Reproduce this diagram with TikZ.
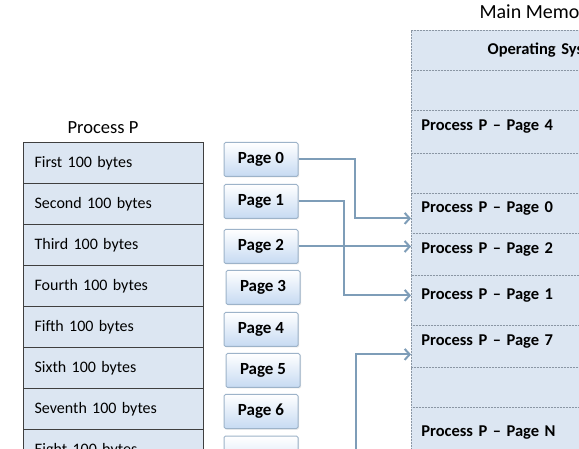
\documentclass[tikz,border=0pt]{standalone}
\usepackage{fontspec}
\setmainfont{Carlito}
\usetikzlibrary{arrows.meta,shadows}
\definecolor{rowblue}{HTML}{DCE6F2}
\definecolor{framegray}{HTML}{3F3F3F}
\definecolor{pageedge}{HTML}{9DB3C9}
\definecolor{pagefill}{HTML}{C6DAF2}
\definecolor{linkblue}{HTML}{7E9DB8}
\definecolor{memedge}{HTML}{8A96A4}
\tikzset{
  byterow/.style={draw=framegray, line width=1.2pt, fill=rowblue, anchor=north west,
    minimum height=41pt, text width=158pt, inner xsep=11pt, align=left,
    font=\fontsize{16}{19}\selectfont},
  pagebox/.style={draw=pageedge, line width=1pt, rounded corners=1.5pt,
    top color=white, bottom color=pagefill, minimum width=74pt, minimum height=34pt,
    drop shadow={opacity=0.2, shadow xshift=1pt, shadow yshift=-1pt},
    font=\bfseries\fontsize{17}{20}\selectfont},
  memrow/.style={draw=memedge, dash pattern=on 2pt off 1pt, line width=0.8pt, fill=rowblue,
    anchor=north west, text width=255pt, inner xsep=10pt, align=left,
    font=\bfseries\fontsize{16.5}{19}\selectfont},
  title/.style={font=\fontsize{18.5}{22}\selectfont},
  link/.style={draw=linkblue, line width=2pt, -{Straight Barb[length=5pt,width=11pt]}}
}
\begin{document}
\begin{tikzpicture}[x=1pt, y=-1pt]
  \clip (0,0) rectangle (579,449);
  \fill[white] (0,0) rectangle (579,449);

  % process P
  \node[title] (ptitle) at (103,128) {Process P};
  \foreach \lbl [count=\i from 0] in {First,Second,Third,Fourth,Fifth,Sixth,Seventh,Eight}
    \node[byterow] (r\i) at (23,142+41*\i) {\lbl\ 100 bytes};

  % pages
  \foreach \n/\x/\y in {0/261/159.5, 1/261/201.5, 2/261/246.5, 3/263/287.5,
                        4/261/329.5, 5/263/370.5, 6/261/411.5}
    \node[pagebox] (p\n) at (\x,\y) {Page \n};
  \node[pagebox, minimum height=42pt] (p7) at (261,457) {Page 7};

  % main memory
  \node[title, anchor=west, font=\fontsize{20}{24}\selectfont] (mtitle) at (476,13) {Main Memory};
  \node[memrow, minimum height=40pt, align=center] (memOS) at (411,30) {Operating System};
  \foreach \nm/\top/\ht/\txt in {memFreeA/70/40/{}, memP4/110/43/{Process P -- Page 4},
      memFreeB/153/40/{}, memP0/193/40/{Process P -- Page 0}, memP2/233/42/{Process P -- Page 2},
      memP1/275/50/{Process P -- Page 1}, memP7/325/42/{Process P -- Page 7},
      memFreeC/367/40/{}, memPN/407/60/{Process P -- Page N}}
    \node[memrow, minimum height=\ht pt] (\nm) at (411,\top) {\txt};

  % page table links
  \draw[link] (p0.east) -- ++(56,0) |- ([yshift=-5pt]memP0.west);
  \draw[link] (p1.east) -- ++(45,0) |- ([yshift=5pt]memP1.west);
  \draw[link] (p2.east) -- (p2.east -| memP2.west);
  \draw[link] (p7.east) -- ++(57,0) |- ([yshift=-8pt]memP7.west);
\end{tikzpicture}
\end{document}
